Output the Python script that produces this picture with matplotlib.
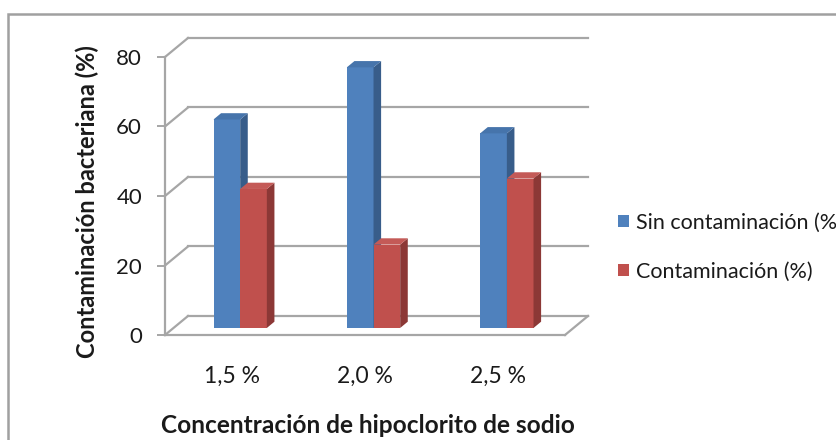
import matplotlib
matplotlib.use("Agg")
import matplotlib.pyplot as plt
from matplotlib.patches import Polygon, Rectangle, Patch

plt.rcParams["font.family"] = ["Lato", "DejaVu Sans"]

# Data
categories   = ["1,5 %", "2,0 %", "2,5 %"]
sin_contam   = [60, 75, 56]
contam       = [40, 24, 43]
series_names = ["Sin contaminación (%)", "Contaminación (%)"]
y_ticks      = [0, 20, 40, 60, 80]

# Colours (Excel 2007 style)
blue_front, blue_side, blue_top = "#4f81bd", "#385d8a", "#4674ab"
red_front, red_side, red_top    = "#c0504d", "#8c3836", "#c45a57"
grid_col                        = "#a6a6a6"
text_col                        = "#1a1a1a"

# 3D depth offset of the back wall, in data units
depth_x = 0.1725
depth_y = 5.47
# bars sit in the middle of the floor depth
f0, f1  = 0.37, 0.70
bar_w   = 0.2

fig = plt.figure(figsize=(8.36, 4.40), dpi=100)
ax = fig.add_axes([165 / 836, 105 / 440, 400 / 836, 278 / 440])

x0, x1 = -0.5, len(categories) - 0.5
ax.set_xlim(x0, x1)
ax.set_ylim(0, 80)

# back wall gridlines + left wall diagonals
for v in y_ticks:
    ax.plot([x0 + depth_x, x1 + depth_x], [v + depth_y, v + depth_y],
            color=grid_col, lw=1.6, clip_on=False, zorder=1)
    ax.plot([x0, x0 + depth_x], [v, v + depth_y],
            color=grid_col, lw=1.6, clip_on=False, zorder=1)
# right floor edge
ax.plot([x1, x1 + depth_x], [0, depth_y], color=grid_col, lw=1.6,
        clip_on=False, zorder=1)


def draw_bars(xs, vals, front, side, top):
    t = f1 - f0
    base = f0 * depth_y
    bars = ax.bar(xs, vals, width=bar_w, bottom=base, align="edge",
                  color=front, zorder=3, clip_on=False)
    for x, v in zip(xs, vals):
        xl, xr = x + f0 * depth_x, x + f0 * depth_x + bar_w
        h = base + v
        ax.add_patch(Polygon([(xr, base), (xr + t * depth_x, base + t * depth_y),
                              (xr + t * depth_x, h + t * depth_y), (xr, h)],
                             closed=True, facecolor=side, edgecolor="none",
                             zorder=3, clip_on=False))
        ax.add_patch(Polygon([(xl, h), (xl + t * depth_x, h + t * depth_y),
                              (xr + t * depth_x, h + t * depth_y), (xr, h)],
                             closed=True, facecolor=top, edgecolor="none",
                             zorder=3, clip_on=False))
    # shift front faces to the bar depth
    for b in bars:
        b.set_x(b.get_x() + f0 * depth_x)
    return bars


pos = list(range(len(categories)))
draw_bars([p - bar_w for p in pos], sin_contam, blue_front, blue_side, blue_top)
draw_bars(pos, contam, red_front, red_side, red_top)

# spines / axes
for s in ["top", "right"]:
    ax.spines[s].set_visible(False)
for s in ["left", "bottom"]:
    ax.spines[s].set_color(grid_col)
    ax.spines[s].set_linewidth(1.6)
    ax.spines[s].set_zorder(1)

ax.set_yticks(y_ticks)
ax.set_yticklabels([str(v) for v in y_ticks])
ax.tick_params(axis="y", length=5.5, width=1.4, color=grid_col, pad=11,
               labelsize=16, labelcolor=text_col)
ax.set_xticks(pos)
ax.set_xticklabels(categories)
ax.tick_params(axis="x", length=0, pad=22, labelsize=16.5, labelcolor=text_col)

ax.set_ylabel("Contaminación bacteriana (%)", fontsize=17, fontweight="bold",
              color=text_col)
ax.yaxis.set_label_coords(-0.195, 0.48)
ax.yaxis.label.set_va("center")
ax.set_xlabel("Concentración de hipoclorito de sodio", fontsize=17.6,
              fontweight="bold", color=text_col)
ax.xaxis.set_label_coords(0.508, -0.325)
ax.xaxis.label.set_va("center")

# legend
handles = [Patch(facecolor=blue_front), Patch(facecolor=red_front)]
fig.legend(handles, series_names, loc="center left",
           bbox_to_anchor=(607 / 836, 1 - 247 / 440), frameon=False,
           borderpad=0, handlelength=0.5, handleheight=0.5,
           handletextpad=0.35, labelspacing=1.35, fontsize=15.5,
           labelcolor=text_col)

# chart area border
fig.patches.append(Rectangle((8 / 836, -0.1), 1.2, 1.1 - 14 / 440,
                             transform=fig.transFigure, fill=False,
                             edgecolor="#a0a0a0", lw=1.8))

fig.savefig("out.png", dpi=100)
